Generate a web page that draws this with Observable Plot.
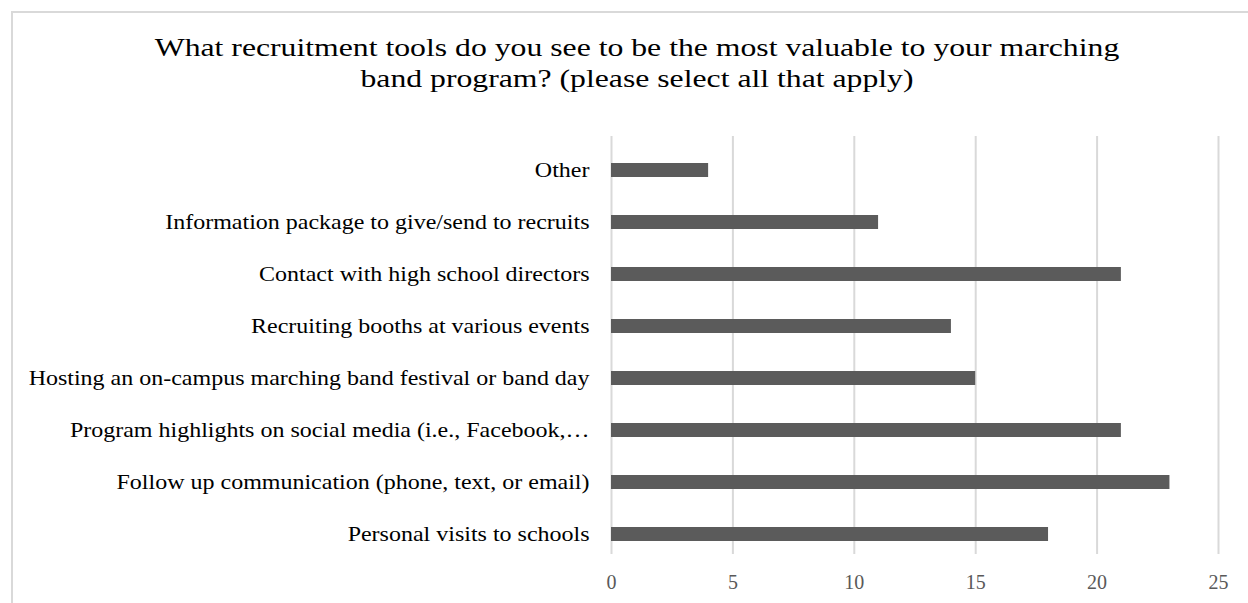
<!DOCTYPE html>
<html>
<head>
<meta charset="utf-8">
<script src="https://cdn.jsdelivr.net/npm/d3@7"></script>
<script src="https://cdn.jsdelivr.net/npm/@observablehq/plot@0.6"></script>
<style>
  html, body { margin: 0; padding: 0; background: #fff; overflow: hidden; width: 1248px; height: 603px; }
  #frame { position: absolute; left: 11px; top: 11px; width: 1260px; height: 700px; border: 2px solid #d9d9d9; box-sizing: border-box; }
  #title { position: absolute; left: 0; top: 32px; width: 1248px; padding-left: 26px; box-sizing: border-box; text-align: center;
           font-family: "Liberation Serif", "Times New Roman", serif; font-size: 26px; line-height: 31px; color: #000;
           transform: scaleX(1.22); transform-origin: 637px 0; }
  #chart { position: absolute; left: 0; top: 100px; }
  #chart svg { overflow: visible; }
</style>
</head>
<body>
<div id="frame"></div>
<div id="title">What recruitment tools do you see to be the most valuable to your marching<br>band program? (please select all that apply)</div>
<div id="chart"></div>
<script>
const categories = [
  "Other",
  "Information package to give/send to recruits",
  "Contact with high school directors",
  "Recruiting booths at various events",
  "Hosting an on-campus marching band festival or band day",
  "Program highlights on social media (i.e., Facebook,…",
  "Follow up communication (phone, text, or email)",
  "Personal visits to schools"
];
const counts = [4, 11, 21, 14, 15, 21, 23, 18];
const xTicks = [0, 5, 10, 15, 20, 25];

const data = categories.map((c, i) => ({category: c, count: counts[i]}));

const chart = Plot.plot({
  width: 1248,
  height: 503,
  marginLeft: 611,
  marginRight: 30,
  marginTop: 36,
  marginBottom: 49,
  style: {fontFamily: '"Liberation Serif", "Times New Roman", serif', fontSize: "20px", background: "transparent"},
  x: {domain: [0, 25], ticks: xTicks, label: null},
  y: {domain: categories, paddingInner: 0.732, paddingOuter: 0.363, align: 0.685, label: null},
  marks: [
    Plot.gridX(xTicks, {stroke: "#d9d9d9", strokeOpacity: 1, strokeWidth: 2}),
    Plot.barX(data, {x: "count", y: "category", fill: "#5b5b5b"}),
    Plot.axisX(xTicks, {tickSize: 0, tickPadding: 20, fill: "#595959", fontSize: 20, label: null}),
    Plot.axisY({tickSize: 0, tickPadding: 22, fill: "#000", fontSize: 20, label: null})
  ]
});
document.getElementById("chart").appendChild(chart);

// widen the category labels horizontally, anchored at their right end
d3.select(chart).selectAll('g[aria-label="y-axis tick label"] text').each(function() {
  const el = this;
  const tr = el.getAttribute("transform");
  if (tr && tr.includes("translate")) {
    el.setAttribute("transform", tr + " scale(1.2,1)");
  } else {
    const x = +(el.getAttribute("x") || 0), y = +(el.getAttribute("y") || 0);
    el.removeAttribute("x"); el.removeAttribute("y");
    el.setAttribute("transform", (tr ? tr + " " : "") + `translate(${x},${y}) scale(1.2,1)`);
  }
});
</script>
</body>
</html>
